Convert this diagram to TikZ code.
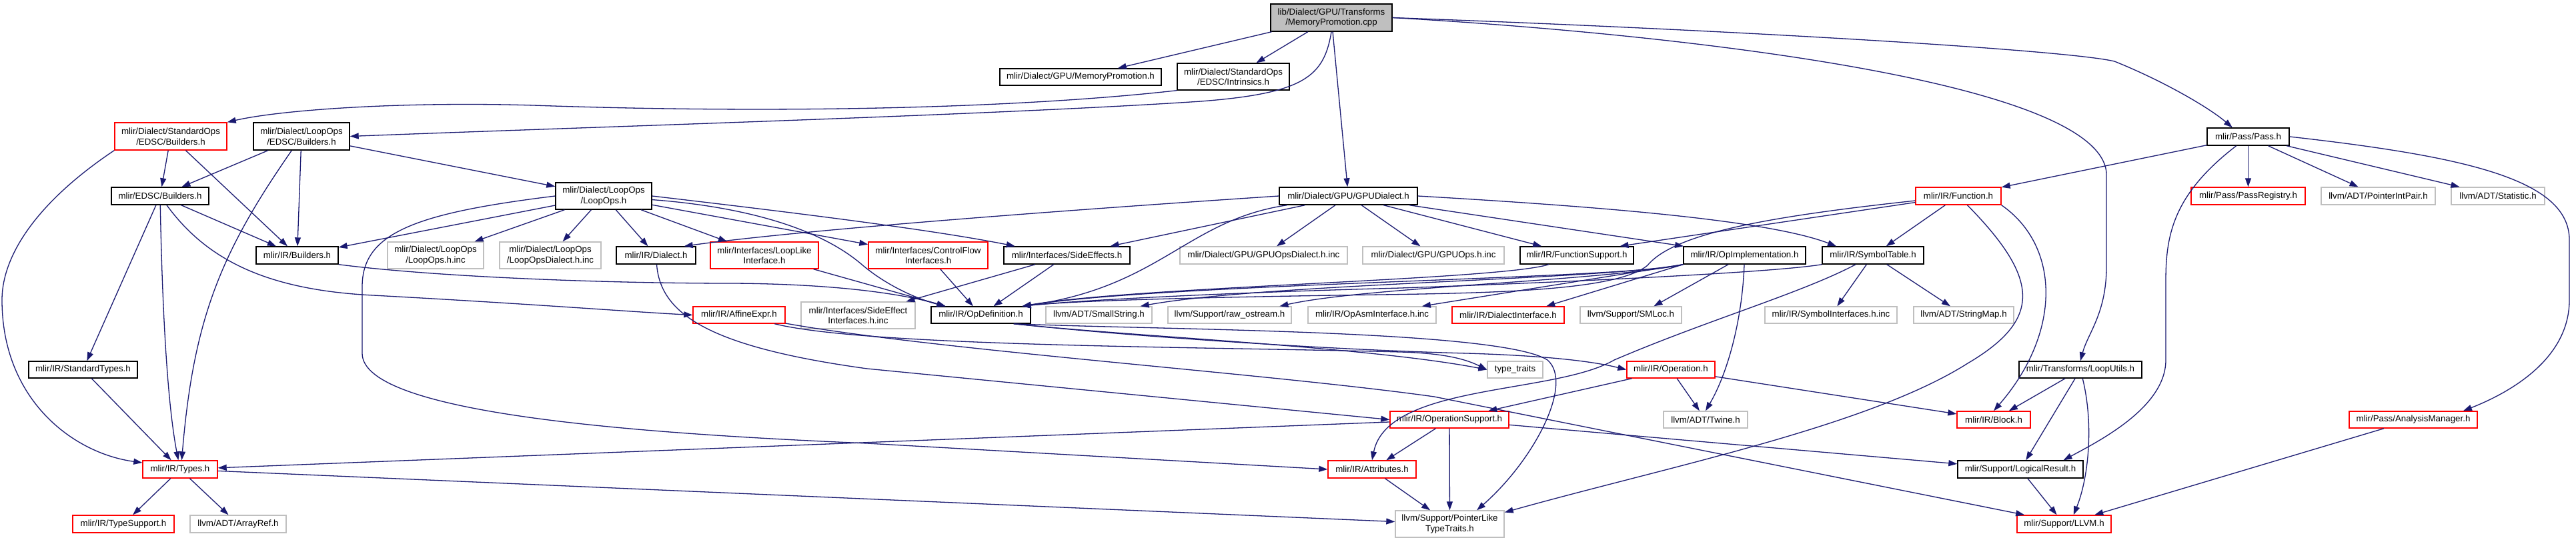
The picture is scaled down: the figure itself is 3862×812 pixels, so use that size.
\documentclass[tikz,border=0pt]{standalone}
\usepackage{fontspec}
\setmainfont{Liberation Sans}
\usetikzlibrary{arrows.meta}
\definecolor{edgec}{HTML}{191970}
\definecolor{grayb}{HTML}{BFBFBF}
\tikzset{
  box/.style={draw=black, line width=1.4pt, inner sep=0pt, align=center, font=\fontsize{13.3}{15.5}\selectfont},
  blk/.style={box},
  redb/.style={box, draw=red},
  grb/.style={box, draw=grayb},
  lnk/.style={draw=edgec, line width=1.3pt, -{Triangle[length=13pt,width=9pt]}}
}
\begin{document}
\begin{tikzpicture}[x=1pt,y=-1pt]
\useasboundingbox (0,0) rectangle (3862,812);
% nodes
\node[blk,fill=grayb,minimum width=182pt,minimum height=41pt] (cpp) at (1996,26.5) {lib/Dialect/GPU/Transforms\\/MemoryPromotion.cpp};
\node[blk,minimum width=242pt,minimum height=25pt] (mph) at (1620,115.5) {mlir/Dialect/GPU/MemoryPromotion.h};
\node[blk,minimum width=168pt,minimum height=40pt] (intr) at (1849,115) {mlir/Dialect/StandardOps\\/EDSC/Intrinsics.h};
\node[redb,minimum width=168pt,minimum height=41pt] (soeb) at (256,204.5) {mlir/Dialect/StandardOps\\/EDSC/Builders.h};
\node[blk,minimum width=144pt,minimum height=41pt] (loeb) at (452,204.5) {mlir/Dialect/LoopOps\\/EDSC/Builders.h};
\node[blk,minimum width=123pt,minimum height=26pt] (passh) at (3370.5,205) {mlir/Pass/Pass.h};
\node[blk,minimum width=146pt,minimum height=26pt] (edscb) at (240,294) {mlir/EDSC/Builders.h};
\node[blk,minimum width=144pt,minimum height=40pt] (loops) at (905,294) {mlir/Dialect/LoopOps\\/LoopOps.h};
\node[blk,minimum width=207pt,minimum height=26pt] (gpud) at (2021.5,294) {mlir/Dialect/GPU/GPUDialect.h};
\node[redb,minimum width=128pt,minimum height=26pt] (func) at (2936,294) {mlir/IR/Function.h};
\node[redb,minimum width=171pt,minimum height=26pt] (passreg) at (3370.5,294) {mlir/Pass/PassRegistry.h};
\node[grb,minimum width=171pt,minimum height=26pt] (pip) at (3565.5,294) {llvm/ADT/PointerIntPair.h};
\node[grb,minimum width=140pt,minimum height=26pt] (stat) at (3745,294) {llvm/ADT/Statistic.h};
\node[blk,minimum width=123pt,minimum height=26pt] (irb) at (445.5,383) {mlir/IR/Builders.h};
\node[grb,minimum width=144pt,minimum height=40pt] (lohinc) at (653,383) {mlir/Dialect/LoopOps\\/LoopOps.h.inc};
\node[grb,minimum width=152pt,minimum height=40pt] (lodinc) at (825,383) {mlir/Dialect/LoopOps\\/LoopOpsDialect.h.inc};
\node[blk,minimum width=119pt,minimum height=26pt] (dial) at (983.5,383) {mlir/IR/Dialect.h};
\node[redb,minimum width=162pt,minimum height=40pt] (llike) at (1146,383) {mlir/Interfaces/LoopLike\\Interface.h};
\node[redb,minimum width=179pt,minimum height=40pt] (cfi) at (1391.5,383) {mlir/Interfaces/ControlFlow\\Interfaces.h};
\node[blk,minimum width=189pt,minimum height=26pt] (sidef) at (1599.5,383) {mlir/Interfaces/SideEffects.h};
\node[grb,minimum width=251pt,minimum height=26pt] (gpuodinc) at (1894.5,383) {mlir/Dialect/GPU/GPUOpsDialect.h.inc};
\node[grb,minimum width=212pt,minimum height=26pt] (gpuoinc) at (2149,383) {mlir/Dialect/GPU/GPUOps.h.inc};
\node[blk,minimum width=170pt,minimum height=26pt] (fsup) at (2364,383) {mlir/IR/FunctionSupport.h};
\node[blk,minimum width=183pt,minimum height=26pt] (opimpl) at (2615.5,383) {mlir/IR/OpImplementation.h};
\node[blk,minimum width=152pt,minimum height=26pt] (symt) at (2808,383) {mlir/IR/SymbolTable.h};
\node[redb,minimum width=138pt,minimum height=25pt] (affine) at (1108,472.5) {mlir/IR/AffineExpr.h};
\node[grb,minimum width=171pt,minimum height=40pt] (seinc) at (1286.5,473) {mlir/Interfaces/SideEffect\\Interfaces.h.inc};
\node[blk,minimum width=149pt,minimum height=25pt] (opdef) at (1470.5,472.5) {mlir/IR/OpDefinition.h};
\node[grb,minimum width=159pt,minimum height=25pt] (smallstr) at (1647.5,472.5) {llvm/ADT/SmallString.h};
\node[grb,minimum width=185pt,minimum height=25pt] (rawos) at (1843.5,472.5) {llvm/Support/raw\_ostream.h};
\node[grb,minimum width=192pt,minimum height=25pt] (opasminc) at (2057,472.5) {mlir/IR/OpAsmInterface.h.inc};
\node[redb,minimum width=168pt,minimum height=25pt] (dialintf) at (2261,472.5) {mlir/IR/DialectInterface.h};
\node[grb,minimum width=152pt,minimum height=25pt] (smloc) at (2445,472.5) {llvm/Support/SMLoc.h};
\node[grb,minimum width=198pt,minimum height=25pt] (syminc) at (2745,472.5) {mlir/IR/SymbolInterfaces.h.inc};
\node[grb,minimum width=150pt,minimum height=25pt] (strmap) at (2944,472.5) {llvm/ADT/StringMap.h};
\node[blk,minimum width=163pt,minimum height=25pt] (stdtypes) at (124.5,554.5) {mlir/IR/StandardTypes.h};
\node[grb,minimum width=83pt,minimum height=25pt] (tytr) at (2271.5,554.5) {type\_traits};
\node[redb,minimum width=132pt,minimum height=25pt] (oper) at (2505,554.5) {mlir/IR/Operation.h};
\node[blk,minimum width=184pt,minimum height=25pt] (lutils) at (3119,554.5) {mlir/Transforms/LoopUtils.h};
\node[redb,minimum width=178pt,minimum height=25pt] (opsup) at (2173,629.5) {mlir/IR/OperationSupport.h};
\node[grb,minimum width=126pt,minimum height=25pt] (twine) at (2557,629.5) {llvm/ADT/Twine.h};
\node[redb,minimum width=110pt,minimum height=25pt] (block) at (2989,629.5) {mlir/IR/Block.h};
\node[redb,minimum width=192pt,minimum height=25pt] (anm) at (3618,629.5) {mlir/Pass/AnalysisManager.h};
\node[redb,minimum width=112pt,minimum height=26pt] (types) at (270,704) {mlir/IR/Types.h};
\node[redb,minimum width=132pt,minimum height=26pt] (attrs) at (2057,704) {mlir/IR/Attributes.h};
\node[blk,minimum width=188pt,minimum height=26pt] (logres) at (3029,704) {mlir/Support/LogicalResult.h};
\node[redb,minimum width=152pt,minimum height=26pt] (tsup) at (185,786) {mlir/IR/TypeSupport.h};
\node[grb,minimum width=144pt,minimum height=26pt] (aref) at (357,786) {llvm/ADT/ArrayRef.h};
\node[grb,minimum width=163pt,minimum height=40pt] (plt) at (2173.5,786) {llvm/Support/PointerLike\\TypeTraits.h};
\node[redb,minimum width=141pt,minimum height=26pt] (llvmh) at (3094.5,786) {mlir/Support/LLVM.h};
% edges from the source file
\draw[lnk] (cpp) -- (mph);
\draw[lnk] (cpp) -- (intr);
\draw[lnk] (cpp.south) .. controls (1985,115) and (1955,140) .. (1800,152) .. controls (1500,172) and (900,190) .. (loeb.east);
\draw[lnk] (cpp) -- (gpud);
\draw[lnk] (cpp.east) .. controls (2600,45) and (3100,75) .. (3170,92) .. controls (3240,120) and (3310,160) .. (passh.150);
\draw[lnk] (cpp.east) .. controls (2500,50) and (3150,120) .. (3158,260) -- (3158,400) .. controls (3158,470) and (3130,500) .. (lutils.north);
% intrinsics / EDSC
\draw[lnk] (intr.south west) .. controls (1550,160) and (1200,172) .. (800,158) .. controls (600,152) and (420,165) .. (soeb.north east);
\draw[lnk] (soeb) -- (edscb);
\draw[lnk] (soeb) -- (irb);
\draw[lnk] (soeb.194) .. controls (60,300) and (3,380) .. (3,450) .. controls (3,600) and (110,680) .. (types.170);
\draw[lnk] (loeb) -- (edscb);
\draw[lnk] (loeb) -- (irb);
\draw[lnk] (loeb) .. controls (330,380) and (290,480) .. (types.80);
\draw[lnk] (loeb) -- (loops);
\draw[lnk] (edscb) -- (stdtypes);
\draw[lnk] (edscb) .. controls (243,450) and (250,600) .. (types);
\draw[lnk] (edscb) -- (irb);
\draw[lnk] (edscb) .. controls (310,390) and (400,435) .. (560,443) .. controls (800,456) and (950,468) .. (affine.west);
% LoopOps.h
\draw[lnk] (loops) -- (lohinc);
\draw[lnk] (loops) -- (lodinc);
\draw[lnk] (loops) -- (dial);
\draw[lnk] (loops) -- (llike);
\draw[lnk] (loops) -- (irb);
\draw[lnk] (loops) -- (cfi);
\draw[lnk] (loops.east) .. controls (1200,320) and (1400,345) .. (sidef.170);
\draw[lnk] (loops) .. controls (1180,315) and (1260,370) .. (1290,395) .. controls (1330,430) and (1380,450) .. (opdef.166);
\draw[lnk] (loops.west) .. controls (620,320) and (543,350) .. (543,430) -- (543,530) .. controls (543,620) and (950,650) .. (1300,665) -- (attrs.west);
% GPUDialect.h
\draw[lnk] (gpud.west) .. controls (1600,315) and (1200,345) .. (dial.18);
\draw[lnk] (gpud) -- (sidef);
\draw[lnk] (gpud) -- (gpuodinc);
\draw[lnk] (gpud) -- (gpuoinc);
\draw[lnk] (gpud) -- (fsup);
\draw[lnk] (gpud) -- (opimpl);
\draw[lnk] (gpud) .. controls (1780,330) and (1740,430) .. (opdef.12);
\draw[lnk] (gpud.east) .. controls (2400,310) and (2650,330) .. (symt.166);
% Pass.h
\draw[lnk] (passh) -- (func);
\draw[lnk] (passh) -- (passreg);
\draw[lnk] (passh) -- (pip);
\draw[lnk] (passh) -- (stat);
\draw[lnk] (passh) .. controls (3260,290) and (3247,350) .. (3247,420) -- (3247,540) .. controls (3247,610) and (3150,660) .. (logres.12);
\draw[lnk] (passh.east) .. controls (3700,235) and (3852,270) .. (3852,360) -- (3852,450) .. controls (3852,540) and (3760,590) .. (anm.10);
% Function.h
\draw[lnk] (func) -- (fsup.12);
\draw[lnk] (func) .. controls (2650,325) and (2510,350) .. (2470,398) .. controls (2420,440) and (2200,440) .. (2000,443) .. controls (1750,447) and (1600,452) .. (opdef.12);
\draw[lnk] (func) -- (symt);
\draw[lnk] (func.south east) .. controls (3090,370) and (3090,500) .. (block.north);
\draw[lnk] (func) .. controls (3060,420) and (3060,480) .. (2950,545) .. controls (2800,640) and (2500,700) .. (plt.12);
% mid layer
\draw[lnk] (irb.south east) .. controls (650,415) and (900,425) .. (1100,425) .. controls (1250,426) and (1350,440) .. (opdef.166);
\draw[lnk] (dial) .. controls (990,470) and (1060,520) .. (1300,553) -- (opsup.west);
\draw[lnk] (llike) -- (opdef.166);
\draw[lnk] (cfi) -- (opdef);
\draw[lnk] (sidef) -- (seinc);
\draw[lnk] (sidef) -- (opdef);
\draw[lnk] (fsup) .. controls (2250,420) and (1700,430) .. (opdef.12);
\draw[lnk] (opimpl.south west) .. controls (2450,418) and (1750,425) .. (opdef.12);
\draw[lnk] (opimpl.south west) .. controls (2400,420) and (1900,425) .. (smallstr.12);
\draw[lnk] (opimpl.south west) .. controls (2400,422) and (2050,430) .. (rawos.10);
\draw[lnk] (opimpl.south west) -- (opasminc.10);
\draw[lnk] (opimpl.south west) -- (dialintf.13);
\draw[lnk] (opimpl) -- (smloc.21);
\draw[lnk] (opimpl) .. controls (2612,480) and (2590,560) .. (twine.north);
\draw[lnk] (symt.south west) .. controls (2650,410) and (2300,425) .. (2100,432) .. controls (1800,440) and (1600,452) .. (opdef.12);
\draw[lnk] (symt) -- (syminc);
\draw[lnk] (symt) -- (strmap);
\draw[lnk] (symt) .. controls (2700,440) and (2560,480) .. (2420,540) .. controls (2330,592) and (2080,575) .. (attrs.north);
% OpDefinition / AffineExpr
\draw[lnk] (opdef.-15) .. controls (1700,505) and (2050,520) .. (tytr.west);
\draw[lnk] (opdef.-15) .. controls (1700,505) and (2000,525) .. (2200,530) .. controls (2300,533) and (2380,540) .. (oper.west);
\draw[lnk] (opdef.-15) .. controls (1750,495) and (2250,495) .. (2320,540) .. controls (2360,575) and (2300,690) .. (plt.27);
\draw[lnk] (affine) .. controls (1300,520) and (1800,520) .. (2100,528) .. controls (2170,530) and (2200,540) .. (tytr.west);
\draw[lnk] (affine) .. controls (1400,525) and (1900,560) .. (2150,595) -- (llvmh.167);
% lower layers
\draw[lnk] (oper) -- (opsup);
\draw[lnk] (oper) -- (twine);
\draw[lnk] (oper) -- (block);
\draw[lnk] (opsup) -- (attrs);
\draw[lnk] (opsup) -- (plt);
\draw[lnk] (opsup) -- (logres);
\draw[lnk] (opsup) -- (types);
\draw[lnk] (stdtypes) -- (types);
\draw[lnk] (types) -- (tsup);
\draw[lnk] (types) -- (aref);
\draw[lnk] (types) -- (plt);
\draw[lnk] (attrs) -- (plt);
\draw[lnk] (lutils) -- (block);
\draw[lnk] (lutils) -- (logres);
\draw[lnk] (lutils) .. controls (3140,640) and (3130,720) .. (llvmh.44);
\draw[lnk] (logres) -- (llvmh);
\draw[lnk] (anm) -- (llvmh);
\end{tikzpicture}
\end{document}
